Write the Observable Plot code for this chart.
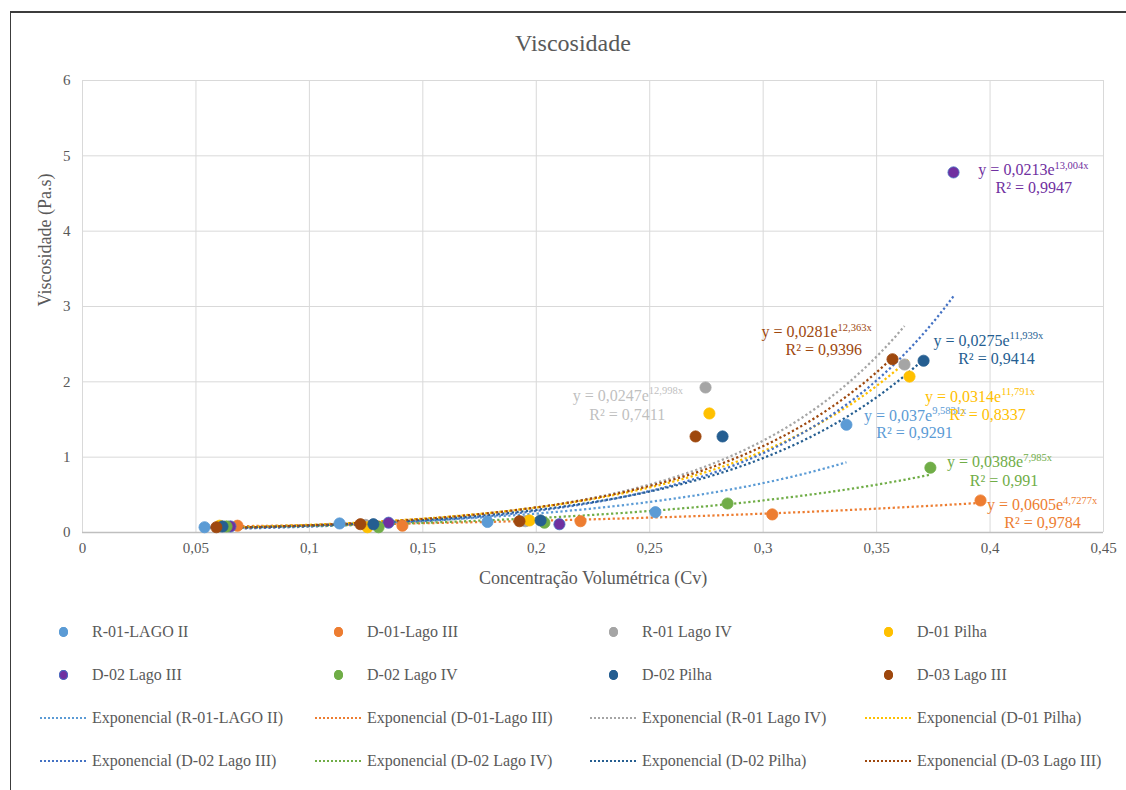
<!DOCTYPE html>
<html><head><meta charset="utf-8">
<script src="https://cdn.jsdelivr.net/npm/d3@7"></script>
<script src="https://cdn.jsdelivr.net/npm/@observablehq/plot@0.6"></script>
<style>
body{margin:0;background:#fff;overflow:hidden;font-family:"Liberation Serif","Times New Roman",serif;}
#wrap{position:relative;width:1126px;height:790px;overflow:hidden;background:#fff;}
#border{position:absolute;left:10px;top:11px;width:1140px;height:800px;border-left:1.5px solid #3c3c3c;border-top:2px solid #3c3c3c;}
#chart{position:absolute;left:0;top:0;}
#title{position:absolute;left:0;width:1146px;top:28px;text-align:center;font-size:24px;color:#595959;line-height:30px;}
.leg{position:absolute;font-size:16px;color:#595959;white-space:nowrap;line-height:20px;}
.mk{position:absolute;width:9px;height:10px;border-radius:50%;}
.ln{position:absolute;width:46px;height:2px;}
</style></head>
<body><div id="wrap"><div id="border"></div><div id="chart"></div><div id="title">Viscosidade</div><div id="legend"></div></div>
<script>
// ---- data ----
const seriesNames = ["R-01-LAGO II","D-01-Lago III","R-01 Lago IV","D-01 Pilha","D-02 Lago III","D-02 Lago IV","D-02 Pilha","D-03 Lago III"];
const cv_R01LagoII  = [0.0538, 0.1133, 0.1785, 0.2525, 0.3367];
const vis_R01LagoII = [0.07, 0.12, 0.14, 0.27, 1.43];
const cv_D01LagoIII  = [0.0683, 0.141, 0.2195, 0.304, 0.3958];
const vis_D01LagoIII = [0.09, 0.09, 0.15, 0.24, 0.425];
const cv_R01LagoIV  = [0.061, 0.1247, 0.1952, 0.2746, 0.3623];
const vis_R01LagoIV = [0.08, 0.10, 0.15, 1.925, 2.23];
const cv_D01Pilha  = [0.0604, 0.1256, 0.197, 0.2763, 0.3645];
const vis_D01Pilha = [0.09, 0.07, 0.16, 1.58, 2.07];
const cv_D02LagoIII  = [0.0652, 0.1349, 0.2102, 0.3839];
const vis_D02LagoIII = [0.08, 0.13, 0.11, 4.78];
const cv_D02LagoIV  = [0.0635, 0.1305, 0.2036, 0.2843, 0.3737];
const vis_D02LagoIV = [0.08, 0.07, 0.13, 0.385, 0.86];
const cv_D02Pilha  = [0.0617, 0.1282, 0.2019, 0.2821, 0.3707];
const vis_D02Pilha = [0.08, 0.11, 0.16, 1.275, 2.28];
const cv_D03LagoIII  = [0.059, 0.1225, 0.1926, 0.2702, 0.357];
const vis_D03LagoIII = [0.07, 0.11, 0.15, 1.275, 2.30];
// exponential trendline coefficients y = a·e^(b·x) and R² as printed
const trendA = [0.037, 0.0605, 0.0247, 0.0314, 0.0213, 0.0388, 0.0275, 0.0281];
const trendB = [9.5831, 4.7277, 12.998, 11.791, 13.004, 7.985, 11.939, 12.363];
const trendR2 = [0.9291, 0.9784, 0.7411, 0.8337, 0.9947, 0.991, 0.9414, 0.9396];
const xTicks = [0, 0.05, 0.1, 0.15, 0.2, 0.25, 0.3, 0.35, 0.4, 0.45];
const yTicks = [0, 1, 2, 3, 4, 5, 6];

// ---- styles ----
const markerFill   = ["#5B9BD5","#ED7D31","#A5A5A5","#FFC000","#7030A0","#70AD47","#255E91","#9E480E"];
const markerStroke = ["#5B9BD5","#ED7D31","#A5A5A5","#FFC000","#4472C4","#70AD47","#255E91","#9E480E"];
const trendColor   = ["#5B9BD5","#ED7D31","#A5A5A5","#FFC000","#4472C4","#70AD47","#255E91","#9E480E"];
const labelColor   = ["#5B9BD5","#ED7D31","#BFBFBF","#FFC000","#7030A0","#70AD47","#255E91","#9E480E"];
// label anchor positions (data coords): split point of "…e|exponent", line-1 y, R² centre x, R² y
const labelPos = [
  {sx:0.3745, sy:1.553, rx:0.3667, ry:1.318},
  {sx:0.4322, sy:0.368, rx:0.4231, ry:0.123},
  {sx:0.2496, sy:1.819, rx:0.2401, ry:1.566},
  {sx:0.4049, sy:1.805, rx:0.3989, ry:1.562},
  {sx:0.4284, sy:4.815, rx:0.4193, ry:4.571},
  {sx:0.4146, sy:0.933, rx:0.4062, ry:0.690},
  {sx:0.4086, sy:2.549, rx:0.4028, ry:2.306},
  {sx:0.3328, sy:2.659, rx:0.3267, ry:2.425}
];

const cvs  = [cv_R01LagoII, cv_D01LagoIII, cv_R01LagoIV, cv_D01Pilha, cv_D02LagoIII, cv_D02LagoIV, cv_D02Pilha, cv_D03LagoIII];
const viss = [vis_R01LagoII, vis_D01LagoIII, vis_R01LagoIV, vis_D01Pilha, vis_D02LagoIII, vis_D02LagoIV, vis_D02Pilha, vis_D03LagoIII];
const fmt = v => String(v).replace(".", ",");

const points = seriesNames.flatMap((n, i) => cvs[i].map((x, j) => ({i, x, y: viss[i][j]})));
const trend = seriesNames.flatMap((n, i) => {
  const lo = d3.min(cvs[i]), hi = d3.max(cvs[i]);
  return d3.range(0, 81).map(k => { const x = lo + (hi - lo) * k / 80; return {i, x, y: trendA[i] * Math.exp(trendB[i] * x)}; });
});
const labels = seriesNames.map((n, i) => ({i, ...labelPos[i]}));

const chart = Plot.plot({
  width: 1126, height: 600,
  marginLeft: 82, marginRight: 23, marginTop: 80, marginBottom: 68,
  style: {fontFamily: "'Liberation Serif','Times New Roman',serif", fontSize: "15px", color: "#595959", background: "transparent"},
  x: {domain: [0, 0.45], ticks: xTicks, tickFormat: fmt, tickSize: 0, tickPadding: 10, label: null},
  y: {domain: [0, 6], ticks: yTicks, tickFormat: fmt, tickSize: 0, tickPadding: 12, label: null},
  color: {type: "identity"},
  marks: [
    Plot.ruleX(xTicks, {stroke: "#D9D9D9", strokeWidth: 1}),
    Plot.ruleY(yTicks, {stroke: "#D9D9D9", strokeWidth: 1}),
    Plot.ruleY([0], {stroke: "#BFBFBF", strokeWidth: 1.5}),
    Plot.line(trend, {x: "x", y: "y", z: "i", stroke: d => trendColor[d.i], strokeWidth: 2.25, strokeDasharray: "2.25 2.5", strokeLinecap: "butt", strokeLinejoin: "miter", curve: "linear"}),
    Plot.dot(points, {x: "x", y: "y", r: 5.6, fill: d => markerFill[d.i], stroke: d => markerStroke[d.i], strokeWidth: 0.8}),
    Plot.text(labels, {x: "sx", y: "sy", text: d => `y = ${fmt(trendA[d.i])}e`, textAnchor: "end", lineAnchor: "middle", fill: d => labelColor[d.i], fontSize: 16}),
    Plot.text(labels, {x: "sx", y: "sy", text: d => `${fmt(trendB[d.i])}x`, textAnchor: "start", lineAnchor: "middle", dy: -4.5, fill: d => labelColor[d.i], fontSize: 10.5}),
    Plot.text(labels, {x: "rx", y: "ry", text: d => `R² = ${fmt(trendR2[d.i])}`, textAnchor: "middle", lineAnchor: "middle", fill: d => labelColor[d.i], fontSize: 16}),
    Plot.text(["Concentração Volumétrica (Cv)"], {frameAnchor: "bottom", dy: 46, text: d => d, fontSize: 18, fill: "#595959", lineAnchor: "middle"}),
    Plot.text(["Viscosidade (Pa.s)"], {frameAnchor: "left", dx: -37, rotate: -90, text: d => d, fontSize: 18, fill: "#595959", lineAnchor: "middle"})
  ]
});
document.getElementById("chart").appendChild(chart);

// ---- legend ----
const leg = document.getElementById("legend");
const colX = [40, 315, 590, 865];
const rowY = [632, 675, 718, 761];
seriesNames.forEach((n, i) => {
  const col = i % 4, row = Math.floor(i / 4);
  const cx = colX[col], cy = rowY[row];
  const m = document.createElement("div");
  m.className = "mk";
  m.style.left = (cx + 19) + "px"; m.style.top = (cy - 5) + "px";
  m.style.background = markerFill[i];
  m.style.boxShadow = `inset 0 0 0 1px ${markerStroke[i]}`;
  leg.appendChild(m);
  const t = document.createElement("div");
  t.className = "leg"; t.textContent = n;
  t.style.left = (cx + 52) + "px"; t.style.top = (cy - 10) + "px";
  leg.appendChild(t);
  // trendline entries
  const cy2 = rowY[row + 2];
  const l = document.createElement("div");
  l.className = "ln";
  l.style.background = `repeating-linear-gradient(to right, ${trendColor[i]} 0 2px, transparent 2px 4px)`;
  l.style.left = cx + "px"; l.style.top = (cy2 - 1) + "px";
  leg.appendChild(l);
  const t2 = document.createElement("div");
  t2.className = "leg"; t2.textContent = `Exponencial (${n})`;
  t2.style.left = (cx + 52) + "px"; t2.style.top = (cy2 - 10) + "px";
  leg.appendChild(t2);
});
</script></body></html>
